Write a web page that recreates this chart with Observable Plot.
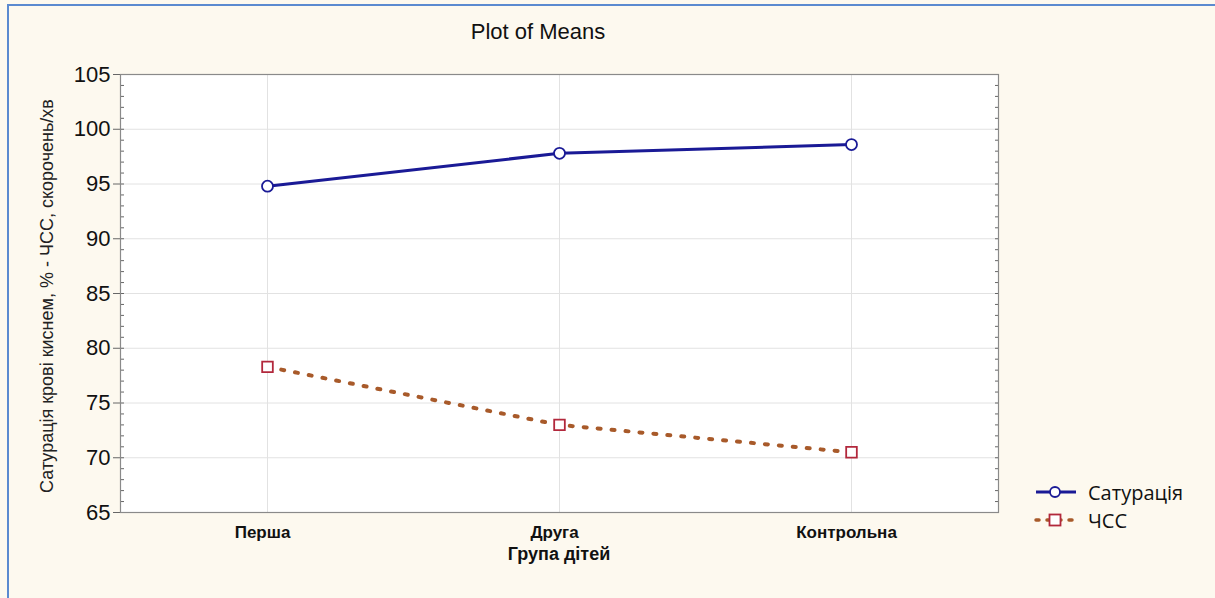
<!DOCTYPE html>
<html>
<head>
<meta charset="utf-8">
<script src="https://cdn.jsdelivr.net/npm/d3@7"></script>
<script src="https://cdn.jsdelivr.net/npm/@observablehq/plot@0.6"></script>
<style>
  html, body { margin: 0; padding: 0; background: #fdf9ef; }
  #wrap { position: relative; width: 1215px; height: 598px; overflow: hidden; background: #fdf9ef; }
  #border { position: absolute; left: 7px; top: 4px; width: 1300px; height: 700px; border-left: 2px solid #5b8ad0; border-top: 2px solid #5b8ad0; }
  #title { position: absolute; left: 438px; width: 200px; top: 19px; text-align: center; font-family: "Liberation Sans Narrow", "Liberation Sans", Arial, sans-serif; font-size: 22px; color: #111; }
  #ylab { position: absolute; left: 47px; top: 296px; transform: translate(-50%, -50%) rotate(-90deg); white-space: nowrap; font-family: "Liberation Sans", Arial, sans-serif; font-size: 18px; color: #222; }
  #xlab { position: absolute; left: 459px; width: 200px; top: 544px; text-align: center; font-family: "Liberation Sans Narrow", "Liberation Sans", Arial, sans-serif; font-weight: bold; font-size: 18px; color: #111; }
  #legend { position: absolute; left: 1032px; top: 478px; font-family: "Open Sans", sans-serif; font-size: 20px; color: #111; }
  #legend .row { display: flex; align-items: center; height: 28px; }
  #legend svg { margin-right: 10px; }
  #chart { position: absolute; left: 0; top: 0; }
</style>
</head>
<body>
<div id="wrap">
  <div id="border"></div>
  <div id="chart"></div>
  <div id="title">Plot of Means</div>
  <div id="ylab">Сатурація крові киснем, % - ЧСС, скорочень/хв</div>
  <div id="xlab">Група дітей</div>
  <div id="legend"></div>
</div>
<script>
const groups = ["Перша", "Друга", "Контрольна"];
const seriesNames = ["Сатурація", "ЧСС"];
const saturation = [94.8, 97.8, 98.6];
const heartRate = [78.3, 73.0, 70.5];
const yTicks = [65, 70, 75, 80, 85, 90, 95, 100, 105];
const yMinorTicks = d3.range(65, 106, 1);

const satData = groups.map((g, i) => ({group: g, value: saturation[i], series: seriesNames[0]}));
const hrData = groups.map((g, i) => ({group: g, value: heartRate[i], series: seriesNames[1]}));

const blue = "#1a1a96";
const brown = "#a85a2a";
const red = "#b2283c";

const chart = Plot.plot({
  width: 1215,
  height: 598,
  marginLeft: 120,
  marginRight: 217,
  marginTop: 74,
  marginBottom: 86,
  style: {background: "transparent", fontFamily: "Liberation Sans, Arial, sans-serif"},
  x: {type: "point", domain: groups, padding: 0.5},
  y: {domain: [65, 105]},
  marks: [
    Plot.frame({fill: "white", stroke: "none"}),
    Plot.gridY(yTicks, {stroke: "#e2e2e2", strokeOpacity: 1}),
    Plot.gridX(groups, {stroke: "#e2e2e2", strokeOpacity: 1}),
    Plot.axisY(yMinorTicks, {anchor: "left", tickSize: -4, tickFormat: () => "", stroke: "#666", label: null}),
    Plot.axisY(yMinorTicks, {anchor: "right", tickSize: -4, tickFormat: () => "", stroke: "#666", label: null}),
    Plot.axisY(yTicks, {anchor: "left", tickSize: 7, tickPadding: 3, fontSize: 22, stroke: "#666", fill: "#111", label: null}),
    Plot.axisX(groups, {anchor: "bottom", tickSize: 0, tickPadding: 13, fontSize: 17, fontWeight: "bold", fill: "#111", label: null, dx: -5, fontFamily: "Liberation Sans Narrow, Liberation Sans, Arial, sans-serif"}),
    Plot.frame({stroke: "#8a8a8a", strokeWidth: 1.2}),
    Plot.line(satData, {x: "group", y: "value", stroke: blue, strokeWidth: 3}),
    Plot.line(hrData, {x: "group", y: "value", stroke: brown, strokeWidth: 4, strokeDasharray: "3,11", strokeLinecap: "round"}),
    Plot.dot(satData, {x: "group", y: "value", r: 5.5, fill: "white", stroke: blue, strokeWidth: 1.8}),
    Plot.dot(hrData, {x: "group", y: "value", symbol: "square", r: 6, fill: "white", stroke: red, strokeWidth: 1.8})
  ]
});
document.getElementById("chart").appendChild(chart);

// legend
const legend = document.getElementById("legend");
const items = [
  {name: seriesNames[0], color: blue, dash: null, marker: "circle"},
  {name: seriesNames[1], color: brown, dash: "3,8", marker: "square"}
];
for (const it of items) {
  const row = document.createElement("div");
  row.className = "row";
  let m;
  if (it.marker === "circle") {
    m = `<circle cx="23" cy="10" r="5" fill="white" stroke="${blue}" stroke-width="1.8"/>`;
  } else {
    m = `<rect x="17.5" y="4.5" width="11" height="11" fill="white" stroke="${red}" stroke-width="1.8"/>`;
  }
  row.innerHTML = `<svg width="46" height="20"><line x1="4" x2="44" y1="10" y2="10" stroke="${it.color}" stroke-width="${it.dash ? 3.5 : 3}" ${it.dash ? `stroke-dasharray="${it.dash}" stroke-linecap="round"` : ""}/>${m}</svg><span>${it.name}</span>`;
  legend.appendChild(row);
}
</script>
</body>
</html>
